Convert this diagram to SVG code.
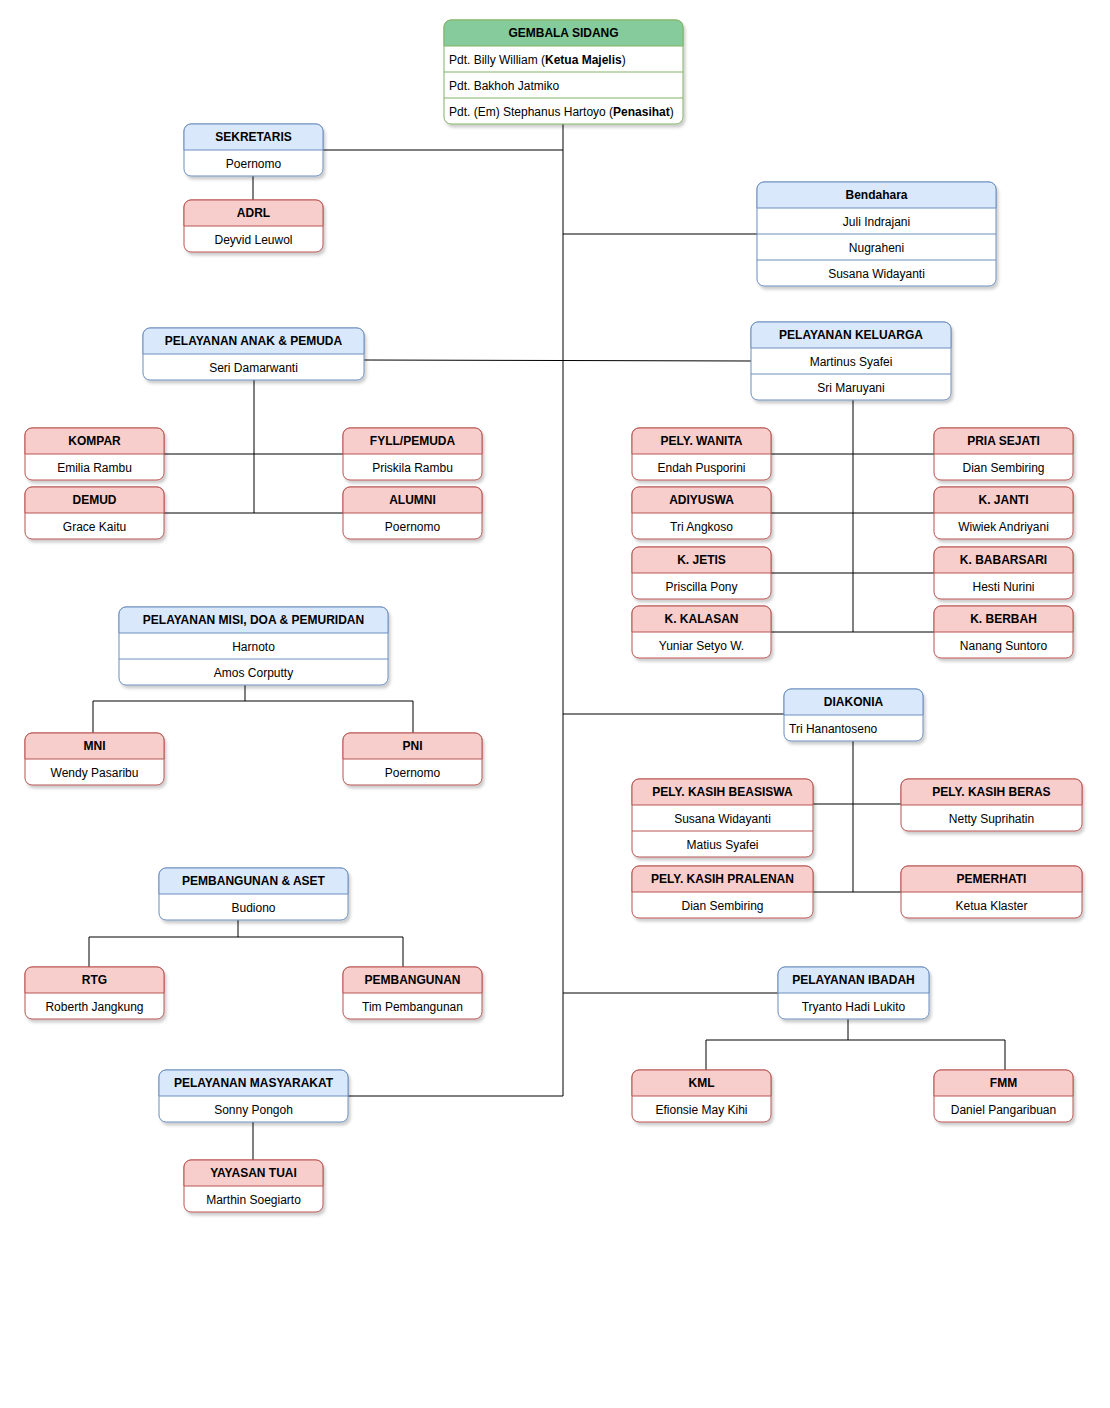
<svg xmlns="http://www.w3.org/2000/svg" width="1110" height="1408" viewBox="0 0 1110 1408">
<defs>
<filter id="sh" x="-10%" y="-10%" width="125%" height="130%">
<feDropShadow dx="2" dy="3" stdDeviation="1.8" flood-color="#000" flood-opacity="0.2"/>
</filter>
<style>
.box{fill:#fff;stroke-width:1;filter:url(#sh)}
.blue .box,.blue .hd,.blue .sep{stroke:#6c8ebf}
.red .box,.red .hd,.red .sep{stroke:#b85450}
.green .box,.green .hd,.green .sep{stroke:#82b366}
.blue .hd{fill:#dae8fc}
.red .hd{fill:#f8cecc}
.green .hd{fill:#86cb9b}
.sep{fill:none;stroke-width:1}
.t{font-family:"Liberation Sans",Arial,sans-serif;font-size:12px;fill:#000;text-anchor:middle;transform:translate(0px,1px)}
.t.h{transform:none}
.h{font-weight:bold}
.l{text-anchor:start}
.c{fill:none;stroke:#000;stroke-width:1}
</style>
</defs>
<rect width="1110" height="1408" fill="#fff"/>
<g id="connectors">
<path class="c" d="M563,124 V1096"/>
<path class="c" d="M323,150 H563"/>
<path class="c" d="M253,176 V200"/>
<path class="c" d="M563,234 H757"/>
<path class="c" d="M364,360 L751,361"/>
<path class="c" d="M254,380 V513"/>
<path class="c" d="M164,454 H343"/>
<path class="c" d="M164,513 H343"/>
<path class="c" d="M853,400 V632"/>
<path class="c" d="M771,454 H934"/>
<path class="c" d="M771,513 H934"/>
<path class="c" d="M771,573 H934"/>
<path class="c" d="M771,632 H934"/>
<path class="c" d="M245,685 V701 M93,733 V701 H413 V733"/>
<path class="c" d="M563,714 H784"/>
<path class="c" d="M853,741 V892"/>
<path class="c" d="M813,804 H901"/>
<path class="c" d="M813,892 H901"/>
<path class="c" d="M238,920 V937 M89,967 V937 H403 V967"/>
<path class="c" d="M563,993 H778"/>
<path class="c" d="M848,1019 V1040 M706,1070 V1040 H1005 V1070"/>
<path class="c" d="M348,1096 H563"/>
<path class="c" d="M253,1122 V1160"/>
</g>

<g id="gembala" class="green">
<rect class="box" x="444" y="20" width="239" height="104" rx="7"/>
<path class="hd" d="M444,46 V27 A7,7 0 0 1 451,20 H676 A7,7 0 0 1 683,27 V46 Z"/>
<path class="sep" d="M444,72 H683 M444,98 H683"/>
<text class="t h" x="563.5" y="37">GEMBALA SIDANG</text>
<text class="t l" x="449" y="63">Pdt. Billy William (<tspan class="h">Ketua Majelis</tspan>)</text>
<text class="t l" x="449" y="89">Pdt. Bakhoh Jatmiko</text>
<text class="t l" x="449" y="115">Pdt. (Em) Stephanus Hartoyo (<tspan class="h">Penasihat</tspan>)</text>
</g>

<g id="sekretaris" class="blue">
<rect class="box" x="184" y="124" width="139" height="52" rx="7"/>
<path class="hd" d="M184,150 V131 A7,7 0 0 1 191,124 H316 A7,7 0 0 1 323,131 V150 Z"/>
<text class="t h" x="253.5" y="141">SEKRETARIS</text>
<text class="t" x="253.5" y="167">Poernomo</text>
</g>

<g id="adrl" class="red">
<rect class="box" x="184" y="200" width="139" height="52" rx="7"/>
<path class="hd" d="M184,226 V207 A7,7 0 0 1 191,200 H316 A7,7 0 0 1 323,207 V226 Z"/>
<text class="t h" x="253.5" y="217">ADRL</text>
<text class="t" x="253.5" y="243">Deyvid Leuwol</text>
</g>

<g id="bendahara" class="blue">
<rect class="box" x="757" y="182" width="239" height="104" rx="7"/>
<path class="hd" d="M757,208 V189 A7,7 0 0 1 764,182 H989 A7,7 0 0 1 996,189 V208 Z"/>
<path class="sep" d="M757,234 H996 M757,260 H996"/>
<text class="t h" x="876.5" y="199">Bendahara</text>
<text class="t" x="876.5" y="225">Juli Indrajani</text>
<text class="t" x="876.5" y="251">Nugraheni</text>
<text class="t" x="876.5" y="277">Susana Widayanti</text>
</g>

<g id="anak-pemuda" class="blue">
<rect class="box" x="143" y="328" width="221" height="52" rx="7"/>
<path class="hd" d="M143,354 V335 A7,7 0 0 1 150,328 H357 A7,7 0 0 1 364,335 V354 Z"/>
<text class="t h" x="253.5" y="345">PELAYANAN ANAK &amp; PEMUDA</text>
<text class="t" x="253.5" y="371">Seri Damarwanti</text>
</g>

<g id="keluarga" class="blue">
<rect class="box" x="751" y="322" width="200" height="78" rx="7"/>
<path class="hd" d="M751,348 V329 A7,7 0 0 1 758,322 H944 A7,7 0 0 1 951,329 V348 Z"/>
<path class="sep" d="M751,374 H951"/>
<text class="t h" x="851" y="339">PELAYANAN KELUARGA</text>
<text class="t" x="851" y="365">Martinus Syafei</text>
<text class="t" x="851" y="391">Sri Maruyani</text>
</g>

<g id="kompar" class="red">
<rect class="box" x="25" y="428" width="139" height="52" rx="7"/>
<path class="hd" d="M25,454 V435 A7,7 0 0 1 32,428 H157 A7,7 0 0 1 164,435 V454 Z"/>
<text class="t h" x="94.5" y="445">KOMPAR</text>
<text class="t" x="94.5" y="471">Emilia Rambu</text>
</g>

<g id="fyll" class="red">
<rect class="box" x="343" y="428" width="139" height="52" rx="7"/>
<path class="hd" d="M343,454 V435 A7,7 0 0 1 350,428 H475 A7,7 0 0 1 482,435 V454 Z"/>
<text class="t h" x="412.5" y="445">FYLL/PEMUDA</text>
<text class="t" x="412.5" y="471">Priskila Rambu</text>
</g>

<g id="demud" class="red">
<rect class="box" x="25" y="487" width="139" height="52" rx="7"/>
<path class="hd" d="M25,513 V494 A7,7 0 0 1 32,487 H157 A7,7 0 0 1 164,494 V513 Z"/>
<text class="t h" x="94.5" y="504">DEMUD</text>
<text class="t" x="94.5" y="530">Grace Kaitu</text>
</g>

<g id="alumni" class="red">
<rect class="box" x="343" y="487" width="139" height="52" rx="7"/>
<path class="hd" d="M343,513 V494 A7,7 0 0 1 350,487 H475 A7,7 0 0 1 482,494 V513 Z"/>
<text class="t h" x="412.5" y="504">ALUMNI</text>
<text class="t" x="412.5" y="530">Poernomo</text>
</g>

<g id="wanita" class="red">
<rect class="box" x="632" y="428" width="139" height="52" rx="7"/>
<path class="hd" d="M632,454 V435 A7,7 0 0 1 639,428 H764 A7,7 0 0 1 771,435 V454 Z"/>
<text class="t h" x="701.5" y="445">PELY. WANITA</text>
<text class="t" x="701.5" y="471">Endah Pusporini</text>
</g>

<g id="pria-sejati" class="red">
<rect class="box" x="934" y="428" width="139" height="52" rx="7"/>
<path class="hd" d="M934,454 V435 A7,7 0 0 1 941,428 H1066 A7,7 0 0 1 1073,435 V454 Z"/>
<text class="t h" x="1003.5" y="445">PRIA SEJATI</text>
<text class="t" x="1003.5" y="471">Dian Sembiring</text>
</g>

<g id="adiyuswa" class="red">
<rect class="box" x="632" y="487" width="139" height="52" rx="7"/>
<path class="hd" d="M632,513 V494 A7,7 0 0 1 639,487 H764 A7,7 0 0 1 771,494 V513 Z"/>
<text class="t h" x="701.5" y="504">ADIYUSWA</text>
<text class="t" x="701.5" y="530">Tri Angkoso</text>
</g>

<g id="janti" class="red">
<rect class="box" x="934" y="487" width="139" height="52" rx="7"/>
<path class="hd" d="M934,513 V494 A7,7 0 0 1 941,487 H1066 A7,7 0 0 1 1073,494 V513 Z"/>
<text class="t h" x="1003.5" y="504">K. JANTI</text>
<text class="t" x="1003.5" y="530">Wiwiek Andriyani</text>
</g>

<g id="jetis" class="red">
<rect class="box" x="632" y="547" width="139" height="52" rx="7"/>
<path class="hd" d="M632,573 V554 A7,7 0 0 1 639,547 H764 A7,7 0 0 1 771,554 V573 Z"/>
<text class="t h" x="701.5" y="564">K. JETIS</text>
<text class="t" x="701.5" y="590">Priscilla Pony</text>
</g>

<g id="babarsari" class="red">
<rect class="box" x="934" y="547" width="139" height="52" rx="7"/>
<path class="hd" d="M934,573 V554 A7,7 0 0 1 941,547 H1066 A7,7 0 0 1 1073,554 V573 Z"/>
<text class="t h" x="1003.5" y="564">K. BABARSARI</text>
<text class="t" x="1003.5" y="590">Hesti Nurini</text>
</g>

<g id="kalasan" class="red">
<rect class="box" x="632" y="606" width="139" height="52" rx="7"/>
<path class="hd" d="M632,632 V613 A7,7 0 0 1 639,606 H764 A7,7 0 0 1 771,613 V632 Z"/>
<text class="t h" x="701.5" y="623">K. KALASAN</text>
<text class="t" x="701.5" y="649">Yuniar Setyo W.</text>
</g>

<g id="berbah" class="red">
<rect class="box" x="934" y="606" width="139" height="52" rx="7"/>
<path class="hd" d="M934,632 V613 A7,7 0 0 1 941,606 H1066 A7,7 0 0 1 1073,613 V632 Z"/>
<text class="t h" x="1003.5" y="623">K. BERBAH</text>
<text class="t" x="1003.5" y="649">Nanang Suntoro</text>
</g>

<g id="misi" class="blue">
<rect class="box" x="119" y="607" width="269" height="78" rx="7"/>
<path class="hd" d="M119,633 V614 A7,7 0 0 1 126,607 H381 A7,7 0 0 1 388,614 V633 Z"/>
<path class="sep" d="M119,659 H388"/>
<text class="t h" x="253.5" y="624">PELAYANAN MISI, DOA &amp; PEMURIDAN</text>
<text class="t" x="253.5" y="650">Harnoto</text>
<text class="t" x="253.5" y="676">Amos Corputty</text>
</g>

<g id="mni" class="red">
<rect class="box" x="25" y="733" width="139" height="52" rx="7"/>
<path class="hd" d="M25,759 V740 A7,7 0 0 1 32,733 H157 A7,7 0 0 1 164,740 V759 Z"/>
<text class="t h" x="94.5" y="750">MNI</text>
<text class="t" x="94.5" y="776">Wendy Pasaribu</text>
</g>

<g id="pni" class="red">
<rect class="box" x="343" y="733" width="139" height="52" rx="7"/>
<path class="hd" d="M343,759 V740 A7,7 0 0 1 350,733 H475 A7,7 0 0 1 482,740 V759 Z"/>
<text class="t h" x="412.5" y="750">PNI</text>
<text class="t" x="412.5" y="776">Poernomo</text>
</g>

<g id="diakonia" class="blue">
<rect class="box" x="784" y="689" width="139" height="52" rx="7"/>
<path class="hd" d="M784,715 V696 A7,7 0 0 1 791,689 H916 A7,7 0 0 1 923,696 V715 Z"/>
<text class="t h" x="853.5" y="706">DIAKONIA</text>
<text class="t l" x="789" y="732">Tri Hanantoseno</text>
</g>

<g id="beasiswa" class="red">
<rect class="box" x="632" y="779" width="181" height="78" rx="7"/>
<path class="hd" d="M632,805 V786 A7,7 0 0 1 639,779 H806 A7,7 0 0 1 813,786 V805 Z"/>
<path class="sep" d="M632,831 H813"/>
<text class="t h" x="722.5" y="796">PELY. KASIH BEASISWA</text>
<text class="t" x="722.5" y="822">Susana Widayanti</text>
<text class="t" x="722.5" y="848">Matius Syafei</text>
</g>

<g id="beras" class="red">
<rect class="box" x="901" y="779" width="181" height="52" rx="7"/>
<path class="hd" d="M901,805 V786 A7,7 0 0 1 908,779 H1075 A7,7 0 0 1 1082,786 V805 Z"/>
<text class="t h" x="991.5" y="796">PELY. KASIH BERAS</text>
<text class="t" x="991.5" y="822">Netty Suprihatin</text>
</g>

<g id="pralenan" class="red">
<rect class="box" x="632" y="866" width="181" height="52" rx="7"/>
<path class="hd" d="M632,892 V873 A7,7 0 0 1 639,866 H806 A7,7 0 0 1 813,873 V892 Z"/>
<text class="t h" x="722.5" y="883">PELY. KASIH PRALENAN</text>
<text class="t" x="722.5" y="909">Dian Sembiring</text>
</g>

<g id="pemerhati" class="red">
<rect class="box" x="901" y="866" width="181" height="52" rx="7"/>
<path class="hd" d="M901,892 V873 A7,7 0 0 1 908,866 H1075 A7,7 0 0 1 1082,873 V892 Z"/>
<text class="t h" x="991.5" y="883">PEMERHATI</text>
<text class="t" x="991.5" y="909">Ketua Klaster</text>
</g>

<g id="pembangunan-aset" class="blue">
<rect class="box" x="159" y="868" width="189" height="52" rx="7"/>
<path class="hd" d="M159,894 V875 A7,7 0 0 1 166,868 H341 A7,7 0 0 1 348,875 V894 Z"/>
<text class="t h" x="253.5" y="885">PEMBANGUNAN &amp; ASET</text>
<text class="t" x="253.5" y="911">Budiono</text>
</g>

<g id="rtg" class="red">
<rect class="box" x="25" y="967" width="139" height="52" rx="7"/>
<path class="hd" d="M25,993 V974 A7,7 0 0 1 32,967 H157 A7,7 0 0 1 164,974 V993 Z"/>
<text class="t h" x="94.5" y="984">RTG</text>
<text class="t" x="94.5" y="1010">Roberth Jangkung</text>
</g>

<g id="pembangunan" class="red">
<rect class="box" x="343" y="967" width="139" height="52" rx="7"/>
<path class="hd" d="M343,993 V974 A7,7 0 0 1 350,967 H475 A7,7 0 0 1 482,974 V993 Z"/>
<text class="t h" x="412.5" y="984">PEMBANGUNAN</text>
<text class="t" x="412.5" y="1010">Tim Pembangunan</text>
</g>

<g id="ibadah" class="blue">
<rect class="box" x="778" y="967" width="151" height="52" rx="7"/>
<path class="hd" d="M778,993 V974 A7,7 0 0 1 785,967 H922 A7,7 0 0 1 929,974 V993 Z"/>
<text class="t h" x="853.5" y="984">PELAYANAN IBADAH</text>
<text class="t" x="853.5" y="1010">Tryanto Hadi Lukito</text>
</g>

<g id="kml" class="red">
<rect class="box" x="632" y="1070" width="139" height="52" rx="7"/>
<path class="hd" d="M632,1096 V1077 A7,7 0 0 1 639,1070 H764 A7,7 0 0 1 771,1077 V1096 Z"/>
<text class="t h" x="701.5" y="1087">KML</text>
<text class="t" x="701.5" y="1113">Efionsie May Kihi</text>
</g>

<g id="fmm" class="red">
<rect class="box" x="934" y="1070" width="139" height="52" rx="7"/>
<path class="hd" d="M934,1096 V1077 A7,7 0 0 1 941,1070 H1066 A7,7 0 0 1 1073,1077 V1096 Z"/>
<text class="t h" x="1003.5" y="1087">FMM</text>
<text class="t" x="1003.5" y="1113">Daniel Pangaribuan</text>
</g>

<g id="masyarakat" class="blue">
<rect class="box" x="159" y="1070" width="189" height="52" rx="7"/>
<path class="hd" d="M159,1096 V1077 A7,7 0 0 1 166,1070 H341 A7,7 0 0 1 348,1077 V1096 Z"/>
<text class="t h" x="253.5" y="1087">PELAYANAN MASYARAKAT</text>
<text class="t" x="253.5" y="1113">Sonny Pongoh</text>
</g>

<g id="yayasan-tuai" class="red">
<rect class="box" x="184" y="1160" width="139" height="52" rx="7"/>
<path class="hd" d="M184,1186 V1167 A7,7 0 0 1 191,1160 H316 A7,7 0 0 1 323,1167 V1186 Z"/>
<text class="t h" x="253.5" y="1177">YAYASAN TUAI</text>
<text class="t" x="253.5" y="1203">Marthin Soegiarto</text>
</g>
</svg>
